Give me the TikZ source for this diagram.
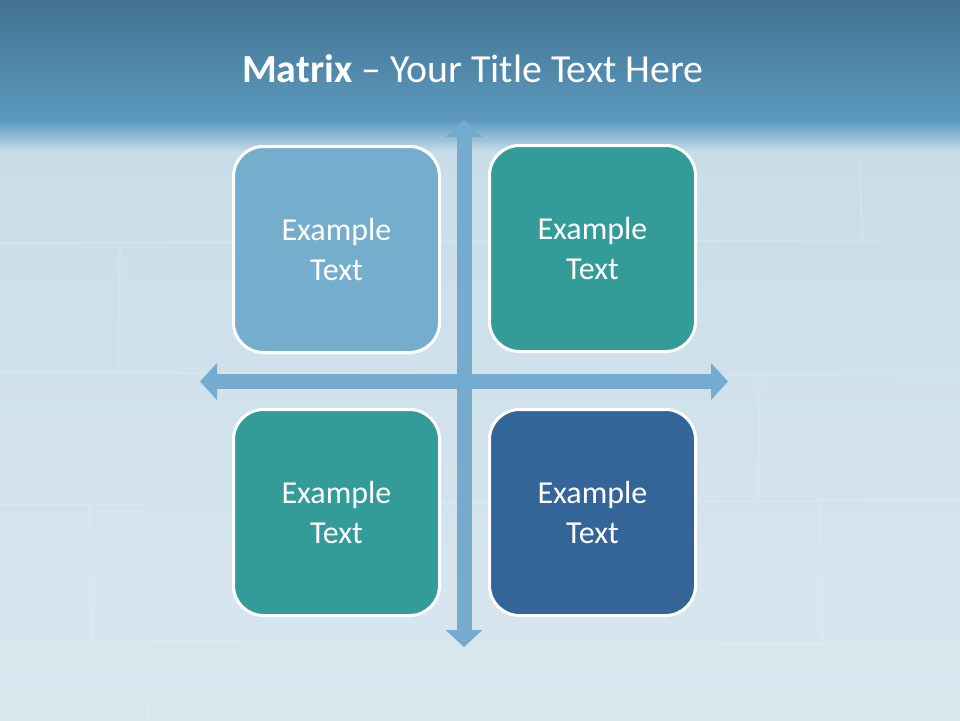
\documentclass[tikz,border=0pt]{standalone}
\usepackage{fontspec}
\setmainfont{Carlito}
\usetikzlibrary{arrows.meta}
\definecolor{bandtop}{RGB}{66,114,145}
\definecolor{bandbot}{RGB}{92,154,190}
\definecolor{icetop}{RGB}{200,221,233}
\definecolor{icebot}{RGB}{218,231,239}
\definecolor{axiscol}{RGB}{116,171,206}
\definecolor{lightbox}{RGB}{117,174,205}
\definecolor{tealbox}{RGB}{51,155,152}
\definecolor{darkbox}{RGB}{52,101,152}
\tikzset{
  quad/.style={draw=white, line width=3pt, rounded corners=30pt,
    minimum width=206pt, minimum height=206pt, inner sep=0pt,
    text=white, align=center, font=\fontsize{32}{40}\selectfont},
  axis/.style={draw=axiscol, line width=15pt,
    {Triangle[width=36pt,length=17pt]}-{Triangle[width=36pt,length=17pt]}},
  seam/.style={white, opacity=0.13, line width=2pt}
}
\begin{document}
\begin{tikzpicture}[x=1pt,y=-1pt]
\useasboundingbox (0,0) rectangle (960,720);
% background
\shade[top color=icetop, bottom color=icebot] (0,140) rectangle (960,720);
\shade[top color=bandtop, bottom color=bandbot] (0,0) rectangle (960,122);
\shade[top color=bandbot, bottom color=icetop] (0,121) rectangle (960,152);
% faint ice seams
\draw[seam] (0,243) -- (960,240);
\draw[seam] (0,372) -- (960,376);
\draw[seam] (0,505) -- (960,500);
\draw[seam] (0,640) -- (960,645);
\draw[seam] (120,243) -- (118,372);
\draw[seam] (860,160) -- (862,240);
\draw[seam] (760,376) -- (758,500);
\draw[seam] (90,505) -- (92,640);
\draw[seam] (820,500) -- (822,645);
\draw[seam] (150,645) -- (148,720);
% axes
\coordinate (vtop) at (464,120);
\coordinate (vbot) at (464,647);
\coordinate (hleft) at (200,381.5);
\coordinate (hright) at (728,381.5);
\draw[axis] (vtop) -- (vbot);
\draw[axis] (hleft) -- (hright);
% title
\node[anchor=base west, inner sep=0pt, text=white, font=\fontsize{39.8}{48}\selectfont] (title) at (242,82) {\textbf{Matrix} – Your Title Text Here};
% boxes
\node[quad, fill=lightbox] (tl) at (336.5,249.5) {Example\\Text};
\node[quad, fill=tealbox] (tr) at (592.5,248.5) {Example\\Text};
\node[quad, fill=tealbox] (bl) at (336.5,512.5) {Example\\Text};
\node[quad, fill=darkbox] (br) at (592.5,512.5) {Example\\Text};
\end{tikzpicture}
\end{document}
